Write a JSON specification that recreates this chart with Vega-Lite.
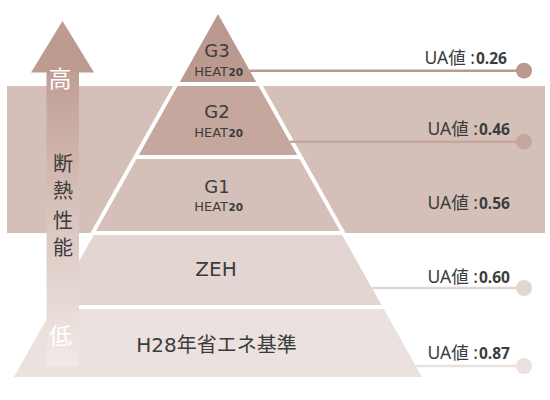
{
  "$schema": "https://vega.github.io/schema/vega-lite/v6.json",
  "width": 550,
  "height": 400,
  "autosize": {"type": "fit", "contains": "padding"},
  "padding": 0,
  "background": "white",
  "config": {
    "view": {"stroke": null},
    "text": {"font": "Noto Sans CJK JP", "color": "#3c3c3c"}
  },
  "encoding": {
    "x": {"field": "x", "type": "quantitative", "axis": null, "scale": {"domain": [0, 550], "nice": false, "zero": false}},
    "y": {"field": "y", "type": "quantitative", "axis": null, "scale": {"domain": [0, 400], "nice": false, "zero": false, "reverse": true}}
  },
  "layer": [
    {
      "data": {"values": [{"x": 7, "x2": 545, "y": 86, "y2": 233}]},
      "mark": {"type": "rect", "color": "#d4c0b9"},
      "encoding": {"x2": {"field": "x2"}, "y2": {"field": "y2"}}
    },
    {
      "data": {"values": [
        {"y": 6, "x": 218, "x2": 218},
        {"y": 377, "x": 9.5, "x2": 426.5}
      ]},
      "mark": {"type": "area", "orient": "horizontal", "color": "white", "opacity": 1},
      "encoding": {"x2": {"field": "x2"}}
    },
    {
      "data": {"values": [
        {"level": "G3", "y": 14, "x": 218, "x2": 218},
        {"level": "G3", "y": 82, "x": 179.8, "x2": 256.2},
        {"level": "G2", "y": 86, "x": 177.5, "x2": 258.5},
        {"level": "G2", "y": 155, "x": 138.8, "x2": 297.2},
        {"level": "G1", "y": 159, "x": 136.5, "x2": 299.5},
        {"level": "G1", "y": 231, "x": 96, "x2": 340},
        {"level": "ZEH", "y": 235, "x": 93.8, "x2": 342.2},
        {"level": "ZEH", "y": 305, "x": 54.5, "x2": 381.5},
        {"level": "H28", "y": 309, "x": 52.2, "x2": 383.8},
        {"level": "H28", "y": 377, "x": 14, "x2": 422}
      ]},
      "mark": {"type": "area", "orient": "horizontal", "opacity": 1},
      "encoding": {
        "x2": {"field": "x2"},
        "detail": {"field": "level"},
        "color": {
          "field": "level", "type": "nominal", "legend": null,
          "scale": {"domain": ["G3", "G2", "G1", "ZEH", "H28"], "range": ["#bc998e", "#c6a79d", "#d5c0b9", "#e3d6d2", "#ebe1de"]}
        }
      }
    },
    {
      "data": {"values": [
        {"level": "G3", "x": 249.9, "end": 524, "y": 70.7},
        {"level": "G2", "x": 289.8, "end": 524, "y": 141.7},
        {"level": "ZEH", "x": 372, "end": 524, "y": 288},
        {"level": "H28", "x": 415.8, "end": 524, "y": 366}
      ]},
      "layer": [
        {
          "mark": {"type": "rule", "strokeWidth": 2.5},
          "encoding": {
            "x2": {"field": "end"},
            "color": {"field": "level", "type": "nominal", "legend": null}
          }
        },
        {
          "mark": {"type": "point", "shape": "circle", "filled": true, "opacity": 1, "size": 256},
          "encoding": {
            "x": {"field": "end", "type": "quantitative", "axis": null, "scale": {"domain": [0, 550], "nice": false, "zero": false}},
            "color": {"field": "level", "type": "nominal", "legend": null}
          }
        }
      ]
    },
    {
      "data": {"values": [
        {"y": 21, "x": 62.5, "x2": 62.5},
        {"y": 72.5, "x": 31, "x2": 94}
      ]},
      "mark": {"type": "area", "orient": "horizontal", "color": "#be9b90", "opacity": 1},
      "encoding": {"x2": {"field": "x2"}}
    },
    {
      "data": {"values": [{"x": 46.5, "x2": 79, "y": 72, "y2": 366}]},
      "mark": {
        "type": "rect",
        "color": {
          "gradient": "linear", "x1": 0, "y1": 0, "x2": 0, "y2": 1,
          "stops": [
            {"offset": 0, "color": "#c09e93"},
            {"offset": 0.5, "color": "#d9c5be"},
            {"offset": 1, "color": "#f1eae7"}
          ]
        }
      },
      "encoding": {"x2": {"field": "x2"}, "y2": {"field": "y2"}}
    },
    {
      "data": {"values": [
        {"t": "高", "x": 60, "y": 80},
        {"t": "低", "x": 60.5, "y": 337}
      ]},
      "mark": {"type": "text", "fontSize": 23, "color": "white", "baseline": "middle", "align": "center"},
      "encoding": {"text": {"field": "t"}}
    },
    {
      "data": {"values": [
        {"t": "断", "x": 63, "y": 165},
        {"t": "熱", "x": 63, "y": 192},
        {"t": "性", "x": 63, "y": 222},
        {"t": "能", "x": 63, "y": 249}
      ]},
      "mark": {"type": "text", "fontSize": 20, "baseline": "middle", "align": "center"},
      "encoding": {"text": {"field": "t"}}
    },
    {
      "data": {"values": [
        {"t": "G3", "x": 217, "y": 57},
        {"t": "G2", "x": 217, "y": 118},
        {"t": "G1", "x": 217, "y": 192.7}
      ]},
      "mark": {"type": "text", "font": "DejaVu Sans", "fontSize": 18, "baseline": "alphabetic", "align": "center"},
      "encoding": {"text": {"field": "t"}}
    },
    {
      "data": {"values": [
        {"t": "ZEH", "x": 216, "y": 276},
        {"t": "H28年省エネ基準", "x": 216.5, "y": 352}
      ]},
      "mark": {"type": "text", "font": "DejaVu Sans, Noto Sans CJK JP", "fontSize": 20, "baseline": "alphabetic", "align": "center"},
      "encoding": {"text": {"field": "t"}}
    },
    {
      "data": {"values": [
        {"x": 228, "y": 75.5},
        {"x": 228, "y": 137},
        {"x": 228, "y": 211}
      ]},
      "layer": [
        {
          "mark": {"type": "text", "font": "DejaVu Sans", "fontSize": 13, "baseline": "alphabetic", "align": "right", "text": "HEAT"}
        },
        {
          "mark": {"type": "text", "font": "DejaVu Sans", "fontSize": 10.5, "fontWeight": "bold", "baseline": "alphabetic", "align": "left", "dx": 0.5, "text": "20"}
        }
      ]
    },
    {
      "data": {"values": [
        {"level": "G3", "ua": "0.26", "x": 475, "y": 64},
        {"level": "G2", "ua": "0.46", "x": 478, "y": 135},
        {"level": "G1", "ua": "0.56", "x": 478, "y": 209.3},
        {"level": "ZEH", "ua": "0.60", "x": 478, "y": 283.3},
        {"level": "H28", "ua": "0.87", "x": 478, "y": 359}
      ]},
      "layer": [
        {
          "mark": {"type": "text", "font": "Noto Sans, Noto Sans CJK JP", "fontSize": 17.5, "baseline": "alphabetic", "align": "right", "text": "UA値 :"}
        },
        {
          "mark": {"type": "text", "font": "Noto Sans", "fontSize": 15.5, "fontWeight": "bold", "baseline": "alphabetic", "align": "left", "dx": 1},
          "encoding": {"text": {"field": "ua"}}
        }
      ]
    }
  ]
}
